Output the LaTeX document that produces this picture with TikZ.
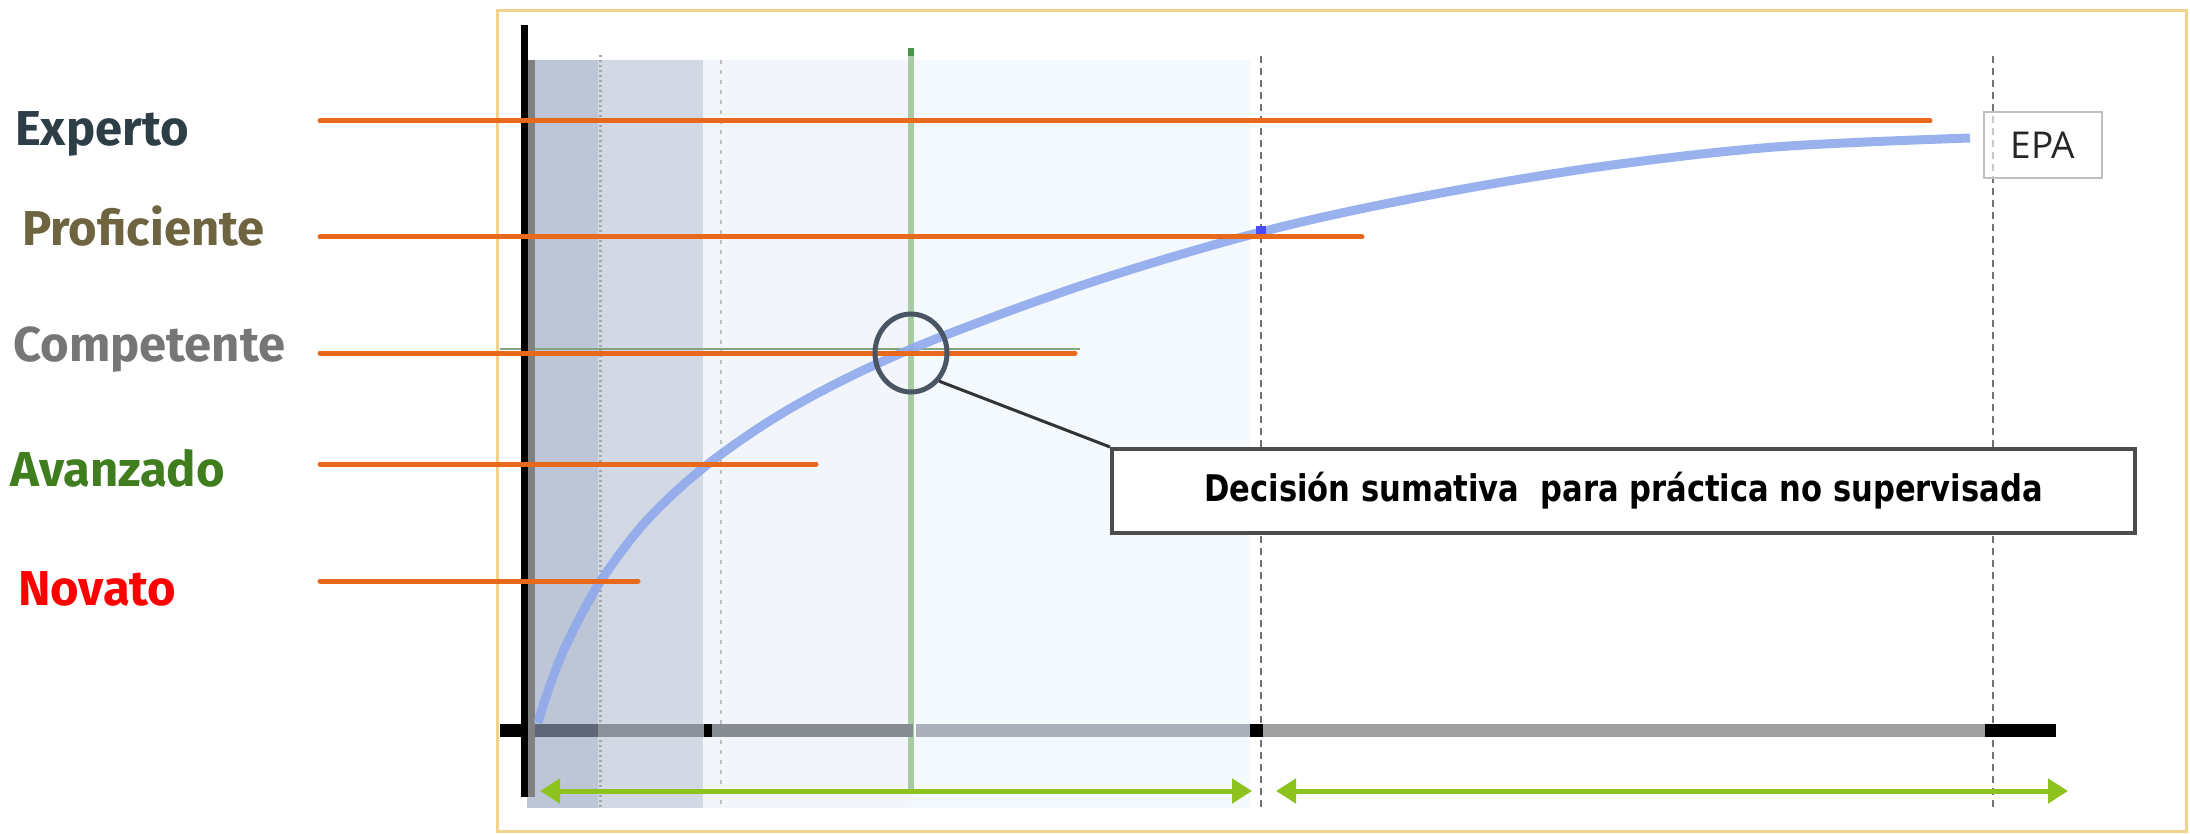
\documentclass[tikz,border=0pt]{standalone}
\usepackage{fontspec}
\setmainfont{Fira Sans}
\newfontfamily\boxfont{DejaVu Sans Condensed}
\newfontfamily\epafont{Open Sans}
\usetikzlibrary{arrows.meta,shapes.geometric}

\definecolor{framecol}{HTML}{F2D28C}
\definecolor{shadeA}{HTML}{BDC6D6}
\definecolor{shadeB}{HTML}{D2D9E4}
\definecolor{shadeC}{HTML}{F2F5FA}
\definecolor{shadeD}{HTML}{F3F9FC}
\definecolor{levelorange}{HTML}{E8691C}
\definecolor{arrowgreen}{HTML}{8DC21F}
\definecolor{vgreen}{HTML}{A8CBA4}
\definecolor{curveblue}{HTML}{8FA9EC}
\definecolor{txtexp}{HTML}{2E3E47}
\definecolor{txtprof}{HTML}{6E6440}
\definecolor{txtcomp}{HTML}{767676}
\definecolor{txtav}{HTML}{3F7D1E}
\definecolor{txtnov}{HTML}{FF0000}
\definecolor{ringcol}{HTML}{4A5563}

\tikzset{
  level/.style={draw=levelorange, line width=5, line cap=round},
  lbl/.style={anchor=west, inner sep=0pt, font=\fontsize{49}{58}\selectfont\bfseries},
  span/.style={draw=arrowgreen, line width=5, {Triangle[width=24,length=20]}-{Triangle[width=24,length=20]}},
  guide/.style={draw=black!55, line width=1.2, dash pattern=on 7pt off 5pt},
  axseg/.style={line width=13},
}

\begin{document}
\begin{tikzpicture}[x=1pt,y=-1pt]
\useasboundingbox (0,0) rectangle (2190,834);
\fill[white] (0,0) rectangle (2190,834);

% chart frame
\draw[framecol, line width=3] (497,11) rectangle (2186,831);

% stage bands
\fill[shadeA] (527,60) rectangle (598,808);
\fill[shadeB] (598,60) rectangle (703,808);
\fill[shadeC] (703,60) rectangle (911,808);
\fill[shadeD] (911,60) rectangle (1250,808);

% band separators
\draw[draw=black!35, line width=3, dash pattern=on 2pt off 3pt] (600,55) -- (600,808);
\draw[draw=black!25, line width=2, dash pattern=on 4pt off 6pt] (721,60) -- (721,808);
\draw[guide] (1261,56) -- (1261,810);
\draw[guide] (1993,56) -- (1993,810);

% decision line
\draw[vgreen, line width=6] (911,52) -- (911,792);
\fill[green!40!black!70] (908,48) rectangle (914,56);
\draw[vgreen!80!black, line width=2] (500,349) -- (1080,349);

% time axis
\draw[axseg, black] (500,730) -- (527,730);
\draw[axseg, draw={rgb,255:red,95;green,102;blue,117}] (527,730) -- (598,730);
\draw[axseg, draw={rgb,255:red,140;green,144;blue,153}] (598,730) -- (704,730);
\draw[axseg, black] (704,730) -- (712,730);
\draw[axseg, draw={rgb,255:red,135;green,139;blue,146}] (712,730) -- (913,730);
\draw[axseg, draw={rgb,255:red,169;green,176;blue,186}] (916,730) -- (1250,730);
\draw[axseg, black] (1250,730) -- (1263,730);
\draw[axseg, draw={rgb,255:red,160;green,160;blue,160}] (1263,730) -- (1985,730);
\draw[axseg, black] (1985,730) -- (2056,730);

% competence axis
\draw[black!50, line width=8] (531,60) -- (531,797);
\draw[black, line width=7] (524,25) -- (524,797);

% learning curve
\draw[curveblue, line width=9, opacity=0.9, line cap=butt]
  plot[smooth, tension=0.55] coordinates {
    (538,723) (543,706) (553,677) (568,641) (600,582) (648,519)
    (712,461) (798,404) (911,349) (1086,284) (1261,232) (1420,197)
    (1598,167) (1775,147) (1970,138)};
\fill[blue!70!white] (1256,226) rectangle (1266,236);

% EPA tag
\node[draw=black!25, line width=2, fill=white, fill opacity=0.6, text opacity=1,
      minimum width=118, minimum height=66, inner sep=0pt,
      font=\epafont\fontsize{37}{44}\selectfont, text=black!85] (epa) at (2043,145) {EPA};

% level lines and labels
\draw[level] (320,121) -- (1930,121);
\draw[level] (320,237) -- (1362,237);
\draw[level] (320,353) -- (1075,353);
\draw[level] (320,464) -- (816,464);
\draw[level] (320,581) -- (638,581);

\node[lbl, text=txtexp]  (experto)     at (15,134) {Experto};
\node[lbl, text=txtprof] (proficiente) at (22,226) {Proficiente};
\node[lbl, text=txtcomp] (competente)  at (13,350) {Competente};
\node[lbl, text=txtav]   (avanzado)    at (10,468) {Avanzado};
\node[lbl, text=txtnov]  (novato)      at (18,589) {Novato};

% decision marker and callout
\node[ellipse, draw=ringcol, line width=5, minimum width=72, minimum height=78,
      inner sep=0pt] (mark) at (911,353) {};
\node[draw=black!70, line width=4, fill=white, minimum width=1023, minimum height=84,
      inner sep=0pt, anchor=north west,
      font=\boxfont\fontsize{34}{40}\selectfont\bfseries] (callout) at (1110,447)
      {\scalebox{1}[1.08]{Decisión sumativa\ \ para práctica no supervisada}};
\draw[black!80, line width=3] (mark.-45) -- (callout.north west);

% period spans
\coordinate (s1a) at (540,791);
\coordinate (s1b) at (1252,791);
\coordinate (s2a) at (1276,791);
\coordinate (s2b) at (2068,791);
\draw[span] (s1a) -- (s1b);
\draw[span] (s2a) -- (s2b);
\end{tikzpicture}
\end{document}
